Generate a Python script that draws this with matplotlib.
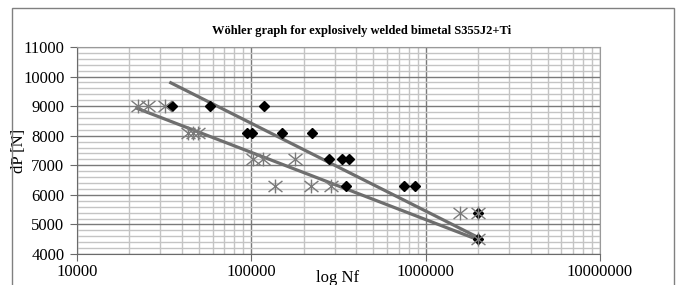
import matplotlib.pyplot as plt
from matplotlib.patches import Rectangle
from matplotlib.path import Path
from matplotlib.ticker import FixedLocator, NullFormatter, MultipleLocator

# series 1 (black diamonds)
nf_diamond = [35000, 58000, 118000, 94000, 100500, 149000, 222000,
              280000, 333000, 363000, 348000, 751000, 869000, 2000000, 2000000]
dp_diamond = [9000, 9000, 9000, 8100, 8100, 8100, 8100,
              7200, 7200, 7200, 6300, 6300, 6300, 5400, 4500]

# series 2 (grey asterisks)
nf_star = [22400, 25600, 32000, 43400, 46300, 49400, 102000, 116000, 178000,
           137000, 220000, 285000, 1575000, 2000000, 2000000]
dp_star = [9000, 9000, 9000, 8100, 8100, 8100, 7200, 7200, 7200,
           6300, 6300, 6300, 5400, 5400, 4500]

# trend lines (end points)
trend1_nf = [34500, 2000000]
trend1_dp = [9790, 4560]
trend2_nf = [22000, 2000000]
trend2_dp = [8930, 4480]

title = "W\u00f6hler graph for explosively welded bimetal S355J2+Ti"

plt.rcParams['font.family'] = ['Liberation Serif', 'DejaVu Serif']

# excel style asterisk: an X with a vertical bar
star_path = Path([(-1, -0.8), (1, 0.8), (-1, 0.8), (1, -0.8), (0, -1), (0, 1)],
                 [Path.MOVETO, Path.LINETO, Path.MOVETO, Path.LINETO,
                  Path.MOVETO, Path.LINETO])

fig = plt.figure(figsize=(6.79, 2.85), dpi=100)
ax = fig.add_axes([77/679, 1-254/285, 523/679, 207/285])

ax.set_xscale('log')
ax.set_xlim(10000, 10000000)
ax.set_ylim(4000, 11000)

minor_x = [m * 10**e for e in range(4, 7) for m in range(2, 10)]
ax.xaxis.set_major_locator(FixedLocator([1e4, 1e5, 1e6, 1e7]))
ax.xaxis.set_minor_locator(FixedLocator(minor_x))
ax.xaxis.set_minor_formatter(NullFormatter())
ax.set_xticklabels(['10000', '100000', '1000000', '10000000'])
ax.yaxis.set_major_locator(MultipleLocator(1000))
ax.yaxis.set_minor_locator(MultipleLocator(200))

ax.grid(which='minor', color='#c4c4c4', linewidth=1.0)
ax.grid(which='major', color='#7a7a7a', linewidth=1.0)
ax.set_axisbelow(True)

for s in ['top', 'right']:
    ax.spines[s].set_color('#9a9a9a')
for s in ['left', 'bottom']:
    ax.spines[s].set_color('#6a6a6a')

ax.tick_params(which='major', direction='out', length=5, color='#6a6a6a',
               labelsize=12, pad=4)
ax.tick_params(which='minor', length=0)
ax.tick_params(axis='x', which='major', pad=2)

ax.plot(trend1_nf, trend1_dp, color='#6e6e6e', linewidth=2.3, zorder=3)
ax.plot(trend2_nf, trend2_dp, color='#6e6e6e', linewidth=2.3, zorder=3)

ax.plot(nf_diamond, dp_diamond, linestyle='none', marker='D', markersize=5,
        color='black', zorder=4)
ax.plot(nf_star, dp_star, linestyle='none', marker=star_path, markersize=10,
        markeredgecolor='#7a7a7a', markeredgewidth=1.0, zorder=5)

ax.set_xlabel('log Nf', fontsize=12)
ax.xaxis.set_label_coords(0.499, -0.075)
ax.set_ylabel('dP [N]', fontsize=12, labelpad=-3)

fig.text(362/679, 1-31/285, title, ha='center', va='center',
         fontsize=9, fontweight='bold')

fig.patches.append(Rectangle((12/679, -0.1), 662/679, 0.1 + 1-8/285,
                             transform=fig.transFigure, fill=False,
                             edgecolor='#808080', linewidth=1.0))

fig.savefig('out.png', dpi=100)
